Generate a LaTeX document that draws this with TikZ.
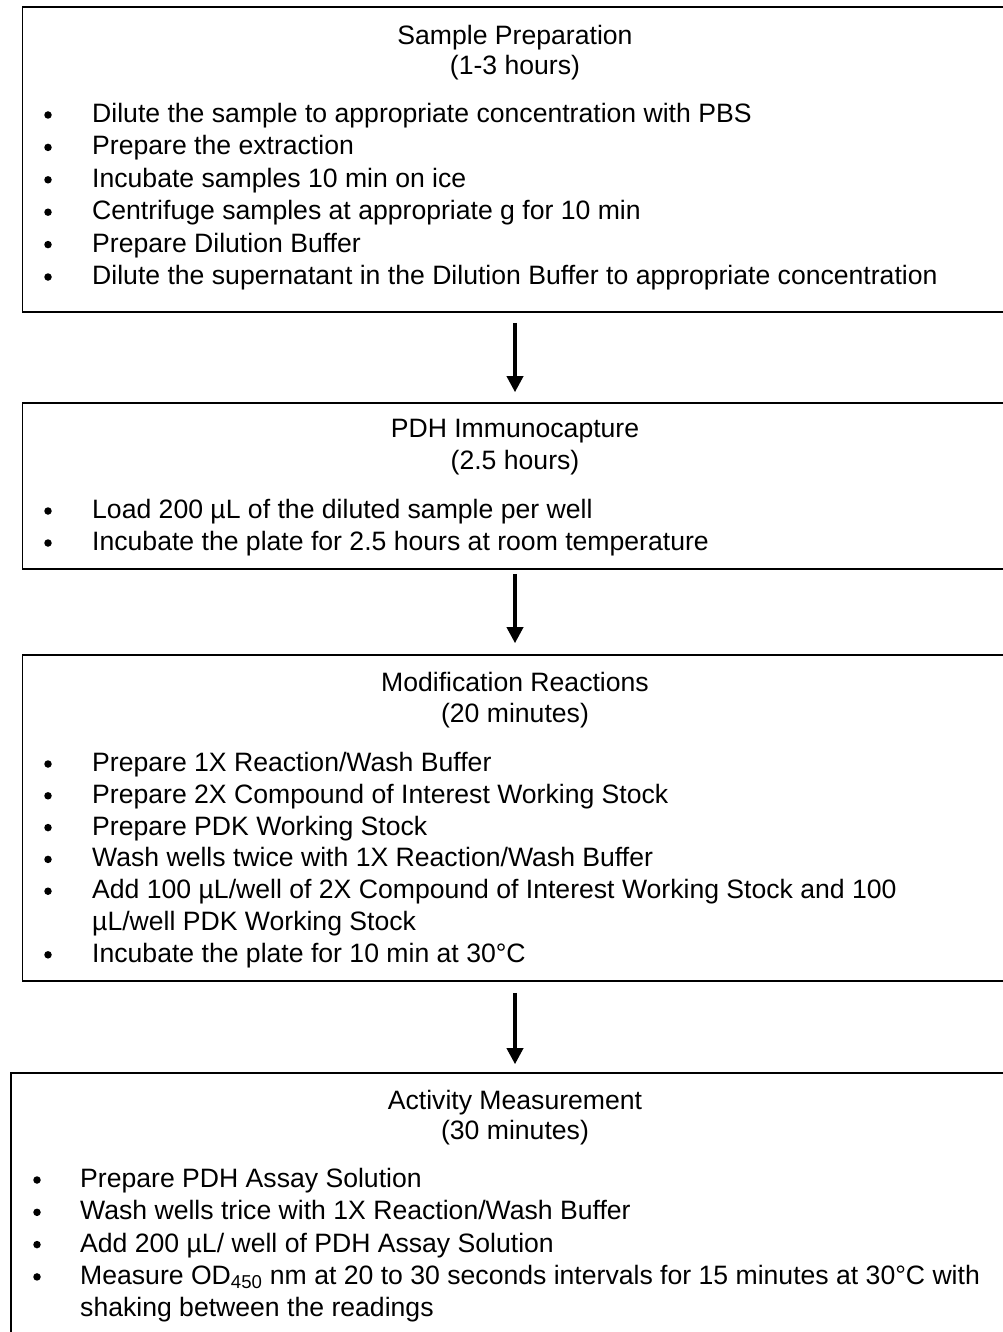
\documentclass[tikz,border=0pt]{standalone}
\usepackage{fontspec}
\setmainfont{Liberation Sans}
\usepackage{tikz}
\usetikzlibrary{arrows.meta}
\tikzset{stagebox/.style={rectangle, draw, line width=1.6pt, inner sep=0pt},
  flow/.style={line width=3.6pt, -{Triangle[width=16pt,length=16pt]}},
  txt/.style={inner sep=0pt, font=\fontsize{26.6}{32}\selectfont},
  head/.style={txt, anchor=base},
  itm/.style={txt, anchor=base west},
  dot/.style={circle, fill, inner sep=0pt, minimum size=7.5pt, yshift=7.5pt}}

\begin{document}
\begin{tikzpicture}[x=1pt,y=-1pt]
  \useasboundingbox (0,0) rectangle (1003,1332);
  \clip (0,0) rectangle (1003,1332);

  % the four stages
  \node[stagebox, minimum width=985pt, minimum height=305pt] (prep) at (515,159.5) {};
  \node[stagebox, minimum width=985pt, minimum height=166pt] (immuno) at (515,486) {};
  \node[stagebox, minimum width=985pt, minimum height=326pt] (modif) at (515,818) {};
  \node[stagebox, minimum width=1008pt, minimum height=272pt] (activity) at (515,1209) {};

  \draw[flow, shorten <=10pt, shorten >=10pt] (prep) -- (immuno);
  \draw[flow, shorten <=4pt, shorten >=11pt] (immuno) -- (modif);
  \draw[flow, shorten <=11pt, shorten >=8pt] (modif) -- (activity);

  % Sample Preparation
  \node[head] (prep-t) at (515,44.5) {Sample Preparation};
  \node[head] (prep-d) at (515,74.5) {(1-3 hours)};
  \foreach \y/\lab/\txt in {
    122.5/1/{Dilute the sample to appropriate concentration with PBS},
    154.9/2/{Prepare the extraction},
    187.3/3/{Incubate samples 10 min on ice},
    219.7/4/{Centrifuge samples at appropriate g for 10 min},
    252.1/5/{Prepare Dilution Buffer},
    284.5/6/{Dilute the supernatant in the Dilution Buffer to appropriate concentration}%
  } {
    \node[dot] (prep-b\lab) at (48,\y) {};
    \node[itm] (prep-i\lab) at (92,\y) {\txt};
  }

  % PDH Immunocapture
  \node[head] (immuno-t) at (515,437.5) {PDH Immunocapture};
  \node[head] (immuno-d) at (515,469.5) {(2.5 hours)};
  \foreach \y/\lab/\txt in {
    518.5/1/{Load 200 µL of the diluted sample per well},
    550.5/2/{Incubate the plate for 2.5 hours at room temperature}%
  } {
    \node[dot] (immuno-b\lab) at (48,\y) {};
    \node[itm] (immuno-i\lab) at (92,\y) {\txt};
  }

  % Modification Reactions
  \node[head] (modif-t) at (515,691.5) {Modification Reactions};
  \node[head] (modif-d) at (515,722.5) {(20 minutes)};
  \foreach \y/\lab/\txt in {
    771.5/1/{Prepare 1X Reaction/Wash Buffer},
    803.3/2/{Prepare 2X Compound of Interest Working Stock},
    835.1/3/{Prepare PDK Working Stock},
    866.9/4/{Wash wells twice with 1X Reaction/Wash Buffer},
    898.7/5/{Add 100 µL/well of 2X Compound of Interest Working Stock and 100},
    962.3/6/{Incubate the plate for 10 min at 30°C}%
  } {
    \node[dot] (modif-b\lab) at (48,\y) {};
    \node[itm] (modif-i\lab) at (92,\y) {\txt};
  }
  \node[itm] (modif-i5b) at (92,930.5) {µL/well PDK Working Stock};

  % Activity Measurement
  \node[head] (activity-t) at (515,1109.5) {Activity Measurement};
  \node[head] (activity-d) at (515,1139.5) {(30 minutes)};
  \foreach \y/\lab/\txt in {
    1187.5/1/{Prepare PDH Assay Solution},
    1219.8/2/{Wash wells trice with 1X Reaction/Wash Buffer},
    1252.1/3/{Add 200 µL/ well of PDH Assay Solution},
    1284.4/4/{Measure OD\textsubscript{450} nm at 20 to 30 seconds intervals for 15 minutes at 30°C with}%
  } {
    \node[dot] (activity-b\lab) at (37,\y) {};
    \node[itm] (activity-i\lab) at (80,\y) {\txt};
  }
  \node[itm] (activity-i4b) at (80,1316.7) {shaking between the readings};

\end{tikzpicture}
\end{document}
